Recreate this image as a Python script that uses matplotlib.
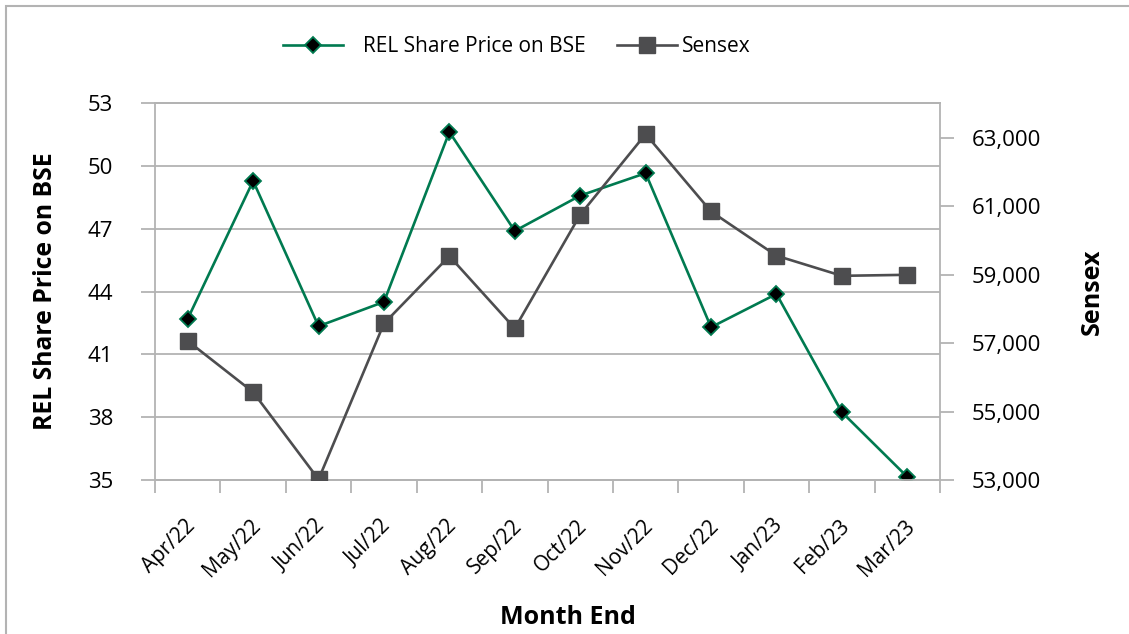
import matplotlib
matplotlib.use('Agg')
import matplotlib.pyplot as plt
import matplotlib.patches as mpatches
from matplotlib.lines import Line2D
from matplotlib.ticker import FuncFormatter
from matplotlib.transforms import ScaledTranslation

# Month-end values
months = ["Apr/22", "May/22", "Jun/22", "Jul/22", "Aug/22", "Sep/22",
          "Oct/22", "Nov/22", "Dec/22", "Jan/23", "Feb/23", "Mar/23"]
rel_price = [42.70, 49.29, 42.35, 43.51, 51.63, 46.90,
             48.59, 49.66, 42.30, 43.89, 38.24, 35.15]
sensex = [57061, 55566, 53019, 57570, 59537, 57427,
          60747, 63100, 60841, 59550, 58962, 58992]

rel_ticks = [35, 38, 41, 44, 47, 50, 53]
sensex_ticks = [53000, 55000, 57000, 59000, 61000, 63000]

plt.rcParams['font.family'] = ['Open Sans', 'DejaVu Sans']

green = '#007a50'
dark_grey = '#4d4d4f'
grid_grey = '#b3b3b3'

W, H = 1129, 634
fig = plt.figure(figsize=(W / 100, H / 100), dpi=100)
ax = fig.add_axes([155 / W, 1 - 480 / H, (940 - 155) / W, (480 - 103.3) / H])
ax2 = ax.twinx()

x = list(range(len(months)))
ax.plot(x, rel_price, color=green, lw=1.9, marker='D', ms=8,
        mfc='black', mec=green, mew=1.3, zorder=3)
ax2.plot(x, sensex, color=dark_grey, lw=1.9, marker='s', ms=12,
         mfc=dark_grey, mec=dark_grey, zorder=3)

ax.set_xlim(-0.5, len(months) - 0.5)
ax.set_ylim(35, 53)
ax.set_yticks(rel_ticks)
ax2.set_ylim(53000, 64000)
ax2.set_yticks(sensex_ticks)
ax2.yaxis.set_major_formatter(FuncFormatter(lambda v, p: f"{v:,.0f}"))

# grid + spines
ax.yaxis.grid(True, color=grid_grey, lw=1.3)
ax.set_axisbelow(True)
for a in (ax, ax2):
    for s in a.spines.values():
        s.set_color(grid_grey)
        s.set_linewidth(1.3)
ax.spines['right'].set_visible(False)
ax2.spines['left'].set_visible(False)

# x ticks: labels at centres, tick marks at category boundaries
ax.set_xticks(x)
ax.set_xticklabels(months, rotation=45, ha='right', va='center',
                   rotation_mode='anchor', fontsize=15)
ax.set_xticks([i - 0.5 for i in range(len(months) + 1)], minor=True)
ax.tick_params(axis='x', which='major', length=0, pad=31)
ax.tick_params(axis='x', which='minor', length=9, width=1.3, color=grid_grey)
shift = ScaledTranslation(0.04, 0, fig.dpi_scale_trans)
for lab in ax.get_xticklabels():
    lab.set_transform(lab.get_transform() + shift)

ax.tick_params(axis='y', length=10, width=1.3, color=grid_grey,
               pad=20, labelsize=16)
ax2.tick_params(axis='y', length=10, width=1.3, color=grid_grey,
                pad=13, labelsize=16)

# axis titles
ax.set_ylabel("REL Share Price on BSE", fontsize=17.8, fontweight='bold')
ax.yaxis.set_label_coords((58 - 155) / 785, 0.5)
ax2.set_ylabel("Sensex", fontsize=18, fontweight='bold')
ax2.yaxis.set_label_coords((1080 - 155) / 785, 0.5)
ax.set_xlabel("Month End", fontsize=18, fontweight='bold')
ax.xaxis.set_label_coords((568 - 155) / 785, (480 - 617) / 376.7)
ax.xaxis.label.set_va('center')

# legend (two pieces to match spacing)
h_rel = Line2D([], [], color=green, lw=1.9, marker='D', ms=8,
               mfc='black', mec=green, mew=1.3)
h_sen = Line2D([], [], color=dark_grey, lw=1.9, marker='s', ms=12,
               mfc=dark_grey, mec=dark_grey)
leg_kw = dict(frameon=False, fontsize=15, borderpad=0, borderaxespad=0,
              loc='center left')
fig.legend([h_rel], ["REL Share Price on BSE"], handlelength=2.9,
           handletextpad=0.95, bbox_to_anchor=(283 / W, 1 - 47 / H), **leg_kw)
fig.legend([h_sen], ["Sensex"], handlelength=2.9, handletextpad=0.2,
           bbox_to_anchor=(617 / W, 1 - 47 / H), **leg_kw)

# outer chart border (only top/left visible in the crop)
fig.add_artist(mpatches.Rectangle((5.5 / W, -0.05), 1.1, 1.05 - 5.5 / H,
                                  transform=fig.transFigure, fill=False,
                                  ec=grid_grey, lw=1.5))

fig.savefig("out.png", dpi=100)
